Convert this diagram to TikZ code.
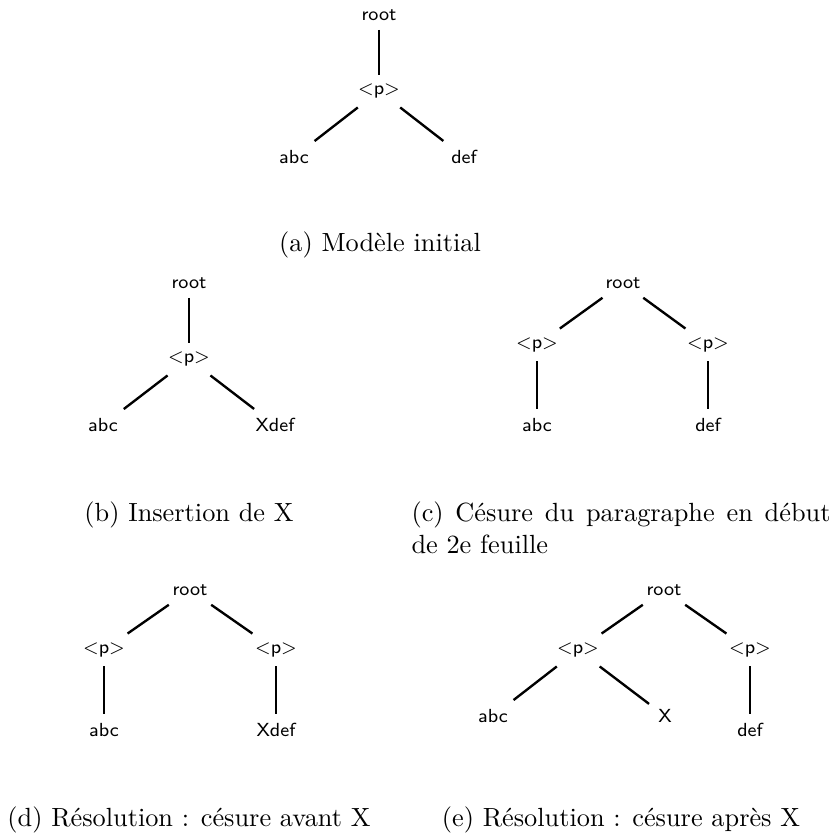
\documentclass[tikz,border=0pt]{standalone}
\usepackage{fontspec}
\begin{document}
\begin{tikzpicture}[x=0.3802pt,y=-0.3802pt,
  lbl/.style={font=\fontsize{7.2}{8.6}\selectfont\sffamily, inner sep=0.333em},
  edge/.style={line width=0.9pt},
  captxt/.style={font=\normalsize, inner sep=0pt, anchor=base}]
\useasboundingbox (0,0) rectangle (835,836);
% (a)
\node[lbl] (ar) at (379,15) {root};
\node[lbl] (ap) at (379,91) {<p>};
\node[lbl] (aa) at (294,157) {abc};
\node[lbl] (ad) at (464,157) {def};
\draw[edge] (ar) -- (ap);
\draw[edge] (ap) -- (aa);
\draw[edge] (ap) -- (ad);
\node[captxt] (capa) at (380,251) {(a) Modèle initial};
% (b)
\node[lbl] (br) at (189,283) {root};
\node[lbl] (bp) at (189,359) {<p>};
\node[lbl] (ba) at (103,425) {abc};
\node[lbl] (bx) at (275,425) {Xdef};
\draw[edge] (br) -- (bp);
\draw[edge] (bp) -- (ba);
\draw[edge] (bp) -- (bx);
\node[captxt] (capb) at (189,521) {(b) Insertion de X};
% (c)
\node[lbl] (cr) at (623,283) {root};
\node[lbl] (cpl) at (537,345) {<p>};
\node[lbl] (cpr) at (708,345) {<p>};
\node[lbl] (ca) at (537,425) {abc};
\node[lbl] (cd) at (708,425) {def};
\draw[edge] (cr) -- (cpl);
\draw[edge] (cr) -- (cpr);
\draw[edge] (cpl) -- (ca);
\draw[edge] (cpr) -- (cd);
\node[captxt, anchor=base west] (capc1) at (411,521) {\makebox[159.3pt][s]{(c) Césure du paragraphe en début}};
\node[captxt, anchor=base west] (capc2) at (411,553) {de 2e feuille};
% (d)
\node[lbl] (dr) at (190,590) {root};
\node[lbl] (dpl) at (104,650) {<p>};
\node[lbl] (dpr) at (276,650) {<p>};
\node[lbl] (da) at (104,730) {abc};
\node[lbl] (dx) at (276,730) {Xdef};
\draw[edge] (dr) -- (dpl);
\draw[edge] (dr) -- (dpr);
\draw[edge] (dpl) -- (da);
\draw[edge] (dpr) -- (dx);
\node[captxt] (capd) at (189,826) {(d) Résolution : césure avant X};
% (e)
\node[lbl] (er) at (664,590) {root};
\node[lbl] (epl) at (578,650) {<p>};
\node[lbl] (epr) at (750,650) {<p>};
\node[lbl] (ea) at (493,716) {abc};
\node[lbl] (ex) at (665,716) {X};
\node[lbl] (ed) at (750,730) {def};
\draw[edge] (er) -- (epl);
\draw[edge] (er) -- (epr);
\draw[edge] (epl) -- (ea);
\draw[edge] (epl) -- (ex);
\draw[edge] (epr) -- (ed);
\node[captxt] (cape) at (621,826) {(e) Résolution : césure après X};
\end{tikzpicture}
\end{document}
